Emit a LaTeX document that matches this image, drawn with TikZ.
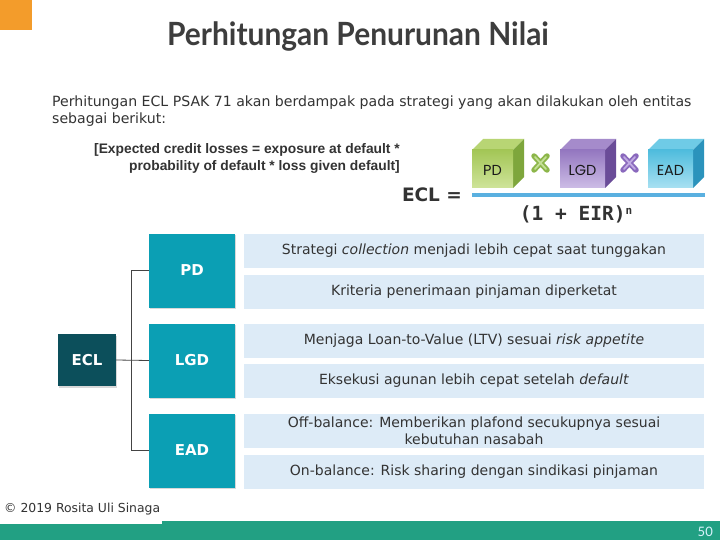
\documentclass[tikz,border=0pt]{standalone}
\usepackage{fontspec}
\setmainfont{DejaVu Sans}
\newfontfamily\titlefont{Lato}
\newfontfamily\arialfont{Liberation Sans}
\newfontfamily\monofont{DejaVu Sans Mono}
\newfontfamily\roundfont{Poppins}
\usetikzlibrary{shadows}
\definecolor{orangeT}{HTML}{F39C2B}
\definecolor{titleC}{HTML}{3D3D3D}
\definecolor{txtC}{HTML}{333333}
\definecolor{eclC}{HTML}{0C4F5B}
\definecolor{boxC}{HTML}{0B9FB4}
\definecolor{panelC}{HTML}{DDEBF7}
\definecolor{footC}{HTML}{22A083}
\definecolor{lineC}{HTML}{5AB0E0}
\definecolor{connC}{HTML}{444444}
\definecolor{pdTop}{HTML}{B8D574}
\definecolor{pdA}{HTML}{A3C656}
\definecolor{pdB}{HTML}{CFE49A}
\definecolor{pdSide}{HTML}{7EA63C}
\definecolor{lgTop}{HTML}{A58BCB}
\definecolor{lgA}{HTML}{9477C0}
\definecolor{lgB}{HTML}{CDBDE6}
\definecolor{lgSide}{HTML}{6A4C98}
\definecolor{eaTop}{HTML}{6FCBE6}
\definecolor{eaA}{HTML}{4FBCDD}
\definecolor{eaB}{HTML}{A9E1F2}
\definecolor{eaSide}{HTML}{2B93BC}
\definecolor{xgA}{HTML}{8DB64A}
\definecolor{xgB}{HTML}{C4E096}
\definecolor{xpA}{HTML}{8A69BD}
\definecolor{xpB}{HTML}{C1ABE3}
\newcommand\drawcube[6]{%
  \fill[#3] (#1,150) -- (#1+11,139) -- (#2+11,139) -- (#2,150) -- cycle;
  \fill[#6] (#2,150) -- (#2+11,139) -- (#2+11,177) -- (#2,188) -- cycle;
  \shade[top color=#4,bottom color=#5] (#1,150) rectangle (#2,188);
}
\tikzset{
  treebox/.style={fill=boxC, text=white, minimum width=86pt, minimum height=74pt,
    font=\bfseries\fontsize{15}{17}\selectfont, inner sep=0pt,
    drop shadow={shadow xshift=1pt, shadow yshift=-1.5pt, opacity=0.3}},
  eclbox/.style={treebox, fill=eclC, minimum width=58pt, minimum height=52pt},
  panel/.style={fill=panelC, text=txtC, minimum width=460pt, minimum height=34pt,
    font=\fontsize{14}{17}\selectfont, align=center, inner sep=0pt},
  conn/.style={draw=connC, line width=0.8pt},
  cubetext/.style={font=\roundfont\fontsize{14.5}{15}\selectfont, text=black!90}
}
\begin{document}
\begin{tikzpicture}[x=1pt,y=-1pt]
\useasboundingbox (0,0) rectangle (720,540);
\fill[white] (0,0) rectangle (720,540);
% orange corner
\fill[orangeT] (0,0) rectangle (32,30);
% title
\node[font=\titlefont\bfseries\fontsize{32}{36}\selectfont, text=titleC] (title) at (358,37)
  {\scalebox{0.935}[1]{Perhitungan Penurunan Nilai}};
% intro
\node[anchor=north west, align=left, inner sep=0pt, text=txtC,
  font=\fontsize{14.1}{17}\selectfont] (intro) at (52,96)
  {Perhitungan ECL PSAK 71 akan berdampak pada strategi yang akan dilakukan oleh entitas\\sebagai berikut:};
% bracket text
\node[anchor=east, align=right, inner sep=0pt, text=txtC,
  font=\arialfont\bfseries\fontsize{13.8}{17}\selectfont] (defn) at (400,158.5)
  {[Expected credit losses = exposure at default *\\probability of default * loss given default]};
% formula
\node[font=\bfseries\fontsize{18.5}{20}\selectfont, text=txtC] (eclf) at (432,195) {ECL =};
\drawcube{472}{513}{pdTop}{pdA}{pdB}{pdSide}
\drawcube{560}{605}{lgTop}{lgA}{lgB}{lgSide}
\drawcube{648}{693}{eaTop}{eaA}{eaB}{eaSide}
\node[cubetext] (pdc) at (492.5,170) {PD};
\node[cubetext] (lgc) at (582.5,170) {LGD};
\node[cubetext] (eac) at (670.5,170) {EAD};
\draw[xgA, line width=5.5pt, line cap=round] (534,156) -- (547,170) (534,170) -- (547,156);
\draw[xgB, line width=1.8pt, line cap=round] (535,157) -- (546,169) (535,169) -- (546,157);
\draw[xpA, line width=5.5pt, line cap=round] (623,156) -- (636,170) (623,170) -- (636,156);
\draw[xpB, line width=1.8pt, line cap=round] (624,157) -- (635,169) (624,169) -- (635,157);
\fill[lineC] (472,193) rectangle (705,197);
\node[font=\monofont\bfseries\fontsize{19.5}{22}\selectfont, text=txtC] (denom) at (576,214)
  {(1 + EIR)\raisebox{0.55ex}{\fontsize{11}{11}\selectfont n}};
% tree
\node[eclbox] (ecl) at (87,360) {ECL};
\node[treebox] (pd) at (192,270.5) {PD};
\node[treebox] (lgd) at (192,360.5) {LGD};
\node[treebox] (ead) at (192,450.5) {EAD};
\draw[conn] (ecl.east) -- (lgd.west);
\draw[conn] (pd.west) -- ++(-17,0) |- (ead.west);
% panels
\node[panel] (p1) at (474,251) {Strategi \textit{collection} menjadi lebih cepat saat tunggakan};
\node[panel] (p2) at (474,291.5) {Kriteria penerimaan pinjaman diperketat};
\node[panel] (p3) at (474,341) {Menjaga Loan-to-Value (LTV) sesuai \textit{risk appetite}};
\node[panel] (p4) at (474,381) {Eksekusi agunan lebih cepat setelah \textit{default}};
\node[panel] (p5) at (474,430.5) {Off-balance: Memberikan plafond secukupnya sesuai\\kebutuhan nasabah};
\node[panel] (p6) at (474,471.5) {On-balance: Risk sharing dengan sindikasi pinjaman};
% footer
\fill[footC] (0,521) rectangle (720,540);
\fill[white] (0,521) rectangle (162,523.5);
\node[anchor=west, inner sep=0pt, text=txtC, font=\fontsize{12.4}{14}\selectfont] (copy) at (4,509)
  {© 2019 Rosita Uli Sinaga};
\node[anchor=east, inner sep=0pt, text=white!85!cyan, font=\titlefont\fontsize{13}{14}\selectfont] (pg) at (713,532) {50};
\end{tikzpicture}
\end{document}
